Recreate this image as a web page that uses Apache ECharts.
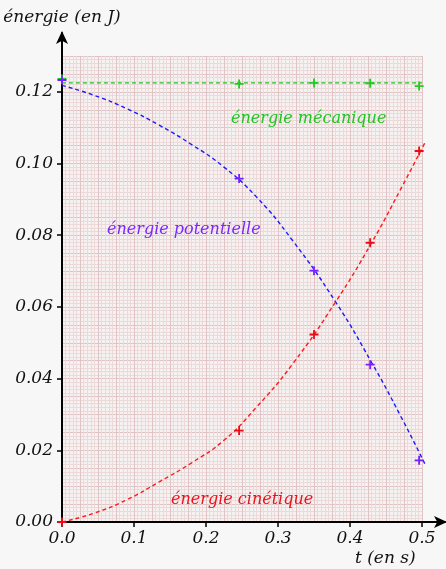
<!DOCTYPE html>
<html>
<head>
<meta charset="utf-8">
<script src="https://cdn.jsdelivr.net/npm/echarts@6/dist/echarts.min.js"></script>
<style>
  html, body { margin: 0; padding: 0; background: #f7f7f7; }
  #chart { width: 446px; height: 569px; }
</style>
</head>
<body>
<div id="chart"></div>
<script>
// courbes modélisées
const tCourbe = [0, 0.045, 0.09, 0.135, 0.18, 0.225, 0.27, 0.32, 0.38, 0.43, 0.47, 0.505]
const epCourbe = [0.1218, 0.1190, 0.1153, 0.1107, 0.1053, 0.0990, 0.0907, 0.0786, 0.0614, 0.0445, 0.0297, 0.0158]
const ecCourbe = [0, 0.0025, 0.0062, 0.0112, 0.0165, 0.0228, 0.0320, 0.0440, 0.0614, 0.0779, 0.0927, 0.1062]
const tMeca = [0, 0.5]
const emCourbe = [0.1225, 0.1225]

// points de mesure
const tMesures = [0, 0.246, 0.35, 0.428, 0.496]
const ecMesures = [0, 0.0255, 0.0523, 0.0779, 0.1035]
const epMesures = [0.1233, 0.0958, 0.0701, 0.0439, 0.0172]
const emMesures = [0.1236, 0.1222, 0.1225, 0.1224, 0.1216]

// graduations
const xTicks = [0, 0.1, 0.2, 0.3, 0.4, 0.5]
const yTicks = [0, 0.02, 0.04, 0.06, 0.08, 0.10, 0.12]

const FONT = 'DejaVu Serif'
const plus = 'path://M4,0H6V4H10V6H6V10H4V6H0V4H4Z'

// mise en page : 720 px par seconde, ~3583 px par joule
const left = 62, bottom = 47
const wPlot = 360, hPlot = 466
const wAxe = 383, hAxe = 489
const xMax = 0.5, yMax = 0.13

const zip = (xs, ys) => xs.map((x, i) => [x, ys[i]])

const chart = echarts.init(document.getElementById('chart'))

const ligne = (nom, xs, ys, color) => ({
  name: nom,
  type: 'line',
  xAxisIndex: 1,
  yAxisIndex: 1,
  data: zip(xs, ys),
  smooth: true,
  symbol: 'none',
  clip: false,
  lineStyle: { color: color, width: 1.4, type: [4, 3] },
  z: 3
})

const mesures = (nom, ys, color) => ({
  name: nom,
  type: 'scatter',
  xAxisIndex: 1,
  yAxisIndex: 1,
  data: zip(tMesures, ys),
  symbol: plus,
  symbolSize: 9,
  clip: false,
  itemStyle: { color: color, opacity: 1 },
  z: 4
})

const annot = (texte, color, l, t, size) => ({
  text: texte,
  left: l,
  top: t,
  padding: 0,
  textStyle: { fontFamily: FONT, fontStyle: 'italic', fontWeight: 'normal', fontSize: size || 16, color: color }
})

chart.setOption({
  backgroundColor: '#f7f7f7',
  animation: false,
  title: [
    annot('énergie mécanique', '#22c322', 231, 111),
    annot('énergie potentielle', '#7a28ff', 107, 222),
    annot('énergie cinétique', '#e8141c', 171, 492),
    annot('t (en s)', '#111', 355, 550, 17)
  ],
  grid: [
    { left: left, width: wPlot, bottom: bottom, height: hPlot, show: true, backgroundColor: '#f7f2f2', borderWidth: 0 },
    { left: left, width: wAxe, bottom: bottom, height: hAxe }
  ],
  xAxis: [
    {
      gridIndex: 0, type: 'value', min: 0, max: xMax, interval: 0.025,
      axisLine: { show: false }, axisTick: { show: false }, axisLabel: { show: false },
      splitLine: { show: true, lineStyle: { color: '#e0c3c5', width: 1 } },
      minorTick: { show: false, splitNumber: 5 },
      minorSplitLine: { show: true, lineStyle: { color: '#ecd9da', width: 1 } }
    },
    {
      gridIndex: 1, type: 'value', min: 0, max: xMax * wAxe / wPlot,
      axisLine: { show: true, onZero: false, symbol: ['none', 'arrow'], symbolSize: [9, 13], symbolOffset: [0, 2], lineStyle: { color: '#000', width: 2 } },
      axisTick: { show: true, inside: false, length: 5, customValues: xTicks, lineStyle: { color: '#000', width: 1.5 } },
      axisLabel: {
        customValues: xTicks, margin: 8,
        fontFamily: FONT, fontStyle: 'italic', fontSize: 17, color: '#111',
        formatter: v => v.toFixed(1)
      },
      splitLine: { show: false }
    }
  ],
  yAxis: [
    {
      gridIndex: 0, type: 'value', min: 0, max: yMax, interval: 0.005,
      axisLine: { show: false }, axisTick: { show: false }, axisLabel: { show: false },
      splitLine: { show: true, lineStyle: { color: '#e0c3c5', width: 1 } },
      minorTick: { show: false, splitNumber: 5 },
      minorSplitLine: { show: true, lineStyle: { color: '#ecd9da', width: 1 } }
    },
    {
      gridIndex: 1, type: 'value', min: 0, max: yMax * hAxe / hPlot,
      name: 'énergie (en J)',
      nameLocation: 'end',
      nameGap: 7,
      nameTextStyle: { fontFamily: FONT, fontStyle: 'italic', fontSize: 17, color: '#111', align: 'center' },
      axisLine: { show: true, onZero: false, symbol: ['none', 'arrow'], symbolSize: [9, 13], symbolOffset: [0, 2], lineStyle: { color: '#000', width: 2 } },
      axisTick: { show: true, inside: false, length: 5, customValues: yTicks, lineStyle: { color: '#000', width: 1.5 } },
      axisLabel: {
        customValues: yTicks, margin: 9,
        fontFamily: FONT, fontStyle: 'italic', fontSize: 17, color: '#111',
        formatter: v => v.toFixed(2)
      },
      splitLine: { show: false }
    }
  ],
  series: [
    ligne('énergie mécanique', tMeca, emCourbe, '#22c322'),
    ligne('énergie potentielle', tCourbe, epCourbe, '#1a1aff'),
    ligne('énergie cinétique', tCourbe, ecCourbe, '#ff1a1a'),
    mesures('Em mesurée', emMesures, '#1fcc1f'),
    mesures('Ep mesurée', epMesures, '#7a1fff'),
    mesures('Ec mesurée', ecMesures, '#ee0a14')
  ]
})

window.addEventListener('resize', () => chart.resize())
</script>
</body>
</html>
